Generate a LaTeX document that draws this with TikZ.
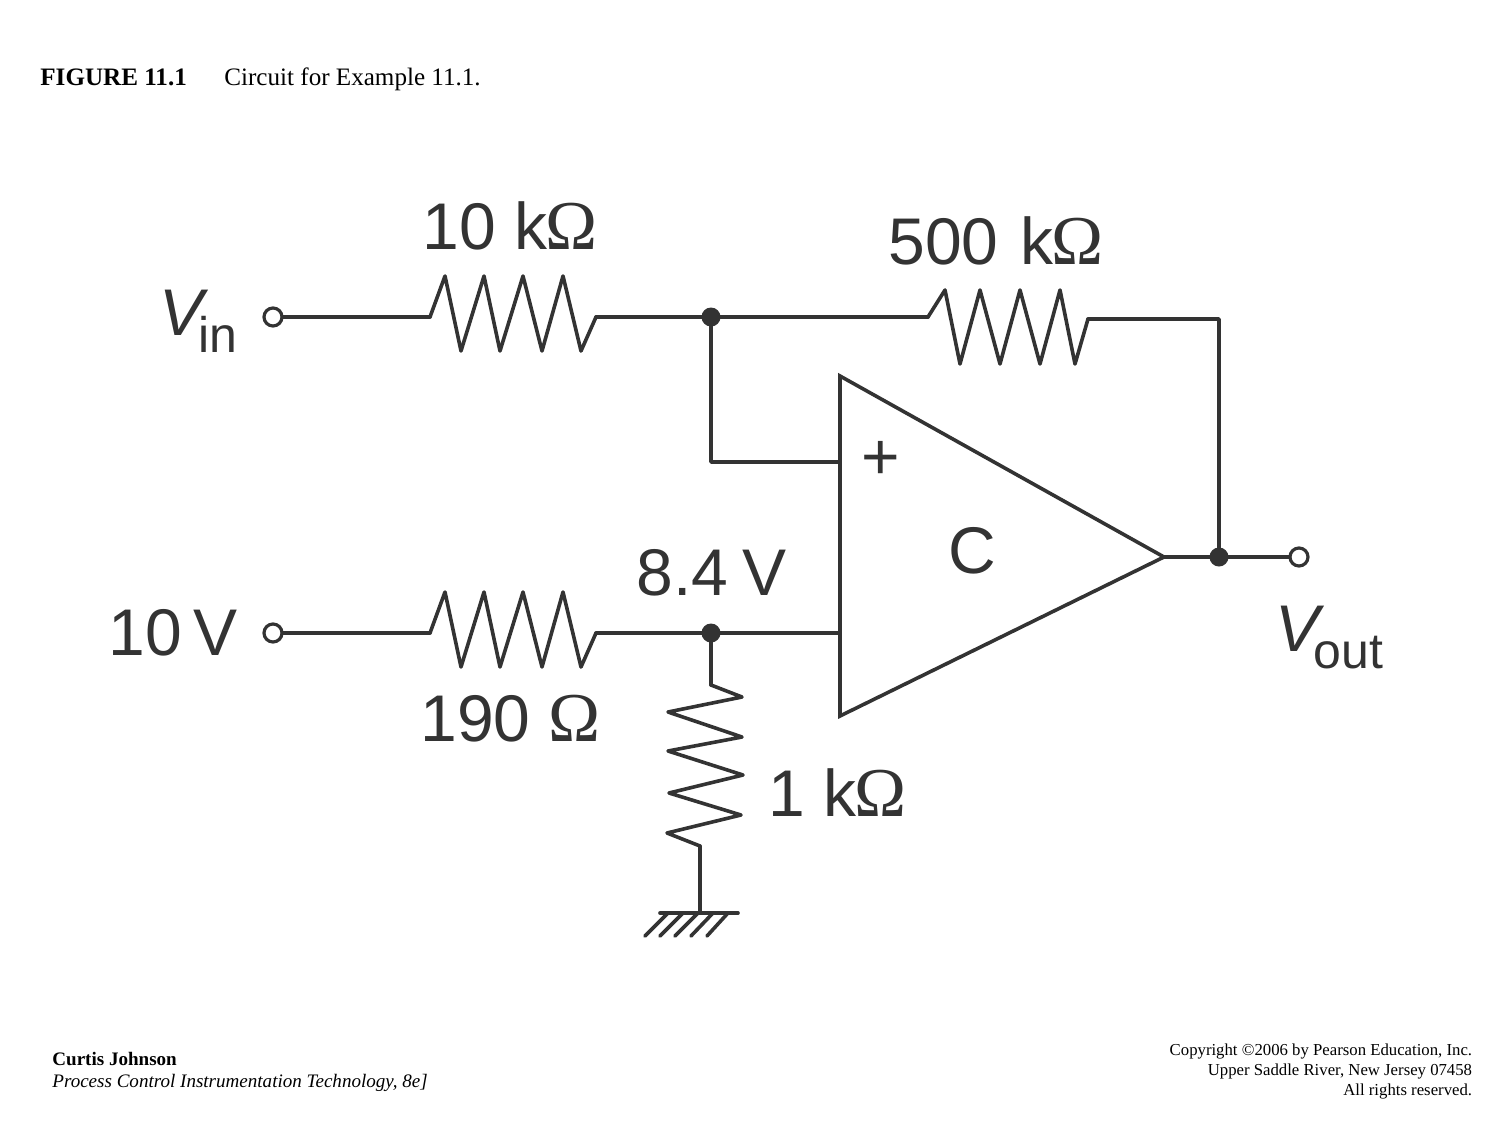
\documentclass[tikz,border=0pt]{standalone}
\usepackage{fontspec}
\setmainfont{Liberation Serif}
\setsansfont{Liberation Sans}
\definecolor{ink}{HTML}{333333}
\tikzset{
  wire/.style={draw=ink,line width=1.8pt,line join=round,line cap=round},
  dot/.style={circle,fill=ink,draw=none,minimum size=9.5pt,inner sep=0pt},
  term/.style={circle,draw=ink,fill=white,line width=1.6pt,minimum size=9pt,inner sep=0pt},
  lab/.style={anchor=base west,inner sep=0pt,text=ink,font=\sffamily\fontsize{33}{33}\selectfont},
  sublab/.style={lab,font=\sffamily\fontsize{25}{25}\selectfont},
  captext/.style={anchor=base west,inner sep=0pt,text=black,font=\fontsize{12.55}{14}\selectfont},
  foot/.style={anchor=base west,inner sep=0pt,text=black,font=\fontsize{9.53}{11}\selectfont},
  copyr/.style={anchor=base east,inner sep=0pt,text=black,font=\fontsize{8.37}{10}\selectfont},
}
\newcommand{\Om}{{\rmfamily\fontsize{35}{35}\selectfont Ω}}
\begin{document}
\begin{tikzpicture}[x=0.5pt,y=-0.5pt]
\useasboundingbox (0,0) rectangle (1500,1125);
% captions
\node[captext] (figno) at (40,85) {\textbf{FIGURE 11.1}};
\node[captext] (figcap) at (224,85) {Circuit for Example 11.1.};
\node[foot] (author) at (52,1065) {\textbf{Curtis Johnson}};
\node[foot] (book) at (52,1087) {\textit{Process Control Instrumentation Technology, 8e]}};
\node[copyr] (c1) at (1472.5,1055) {Copyright ©2006 by Pearson Education, Inc.};
\node[copyr] (c2) at (1472.5,1075) {Upper Saddle River, New Jersey 07458};
\node[copyr] (c3) at (1472.5,1095) {All rights reserved.};
% junctions and terminals
\coordinate (j1) at (711,317);
\coordinate (j2) at (711,633);
\coordinate (j3) at (1219,557);
\coordinate (r1a) at (430,317);
\coordinate (r1b) at (596,317);
\coordinate (r2a) at (928,317);
\coordinate (r2b) at (1088,319);
\coordinate (r3a) at (430,633);
\coordinate (r3b) at (596,633);
\coordinate (r4a) at (711,685);
\coordinate (r4b) at (700,846);
\coordinate (gnd) at (700,913);
\coordinate (fbc) at (1219,319);
\coordinate (plusc) at (711,462);
\coordinate (plusin) at (840,462);
\coordinate (minusin) at (840,633);
\coordinate (ampT) at (840,376);
\coordinate (ampB) at (840,716);
\coordinate (out) at (1164,557);
\node[term] (vin) at (273,317) {};
\node[term] (vten) at (273,633) {};
\node[term] (vout) at (1299,557) {};
% wires
\draw[wire] (vin) -- (r1a);
\draw[wire] (r1b) -- (j1) -- (r2a);
\draw[wire] (r2b) -- (fbc) -- (j3);
\draw[wire] (j1) -- (plusc) -- (plusin);
\draw[wire] (vten) -- (r3a);
\draw[wire] (r3b) -- (j2) -- (minusin);
\draw[wire] (j2) -- (r4a);
\draw[wire] (out) -- (j3) -- (vout);
\draw[wire] (r4b) -- (gnd);
% resistors
\draw[wire] (r1a) -- (445,276) -- (461,351) -- (484,276) -- (500,351) -- (523,276) -- (542,351) -- (563,276) -- (581,351) -- (r1b);
\draw[wire] (r2a) -- (945,290) -- (960,364) -- (980,290) -- (1000,364) -- (1020,290) -- (1040,364) -- (1060,290) -- (1075,364) -- (r2b);
\draw[wire] (r3a) -- (445,592) -- (461,667) -- (484,592) -- (500,667) -- (523,592) -- (542,667) -- (563,592) -- (581,667) -- (r3b);
\draw[wire] (r4a) -- (742,697) -- (668,712) -- (742,737) -- (668,751) -- (743,775) -- (669,793) -- (741,815) -- (667,833) -- (r4b);
% ground
\draw[wire] (660,913) -- (738,913);
\foreach \t/\b in {668/645,683/660,698/675,713/691,728/707}
  \draw[wire] (\t,913) -- (\b,936);
% op-amp
\draw[wire,line join=miter] (ampT) -- (out) -- (ampB) -- cycle;
% dots
\node[dot] (d1) at (j1) {};
\node[dot] (d2) at (j2) {};
\node[dot] (d3) at (j3) {};
% labels
\node[lab] (l10k) at (422,249) {10 k\kern-1pt\Om};
\node[lab] (l500k) at (888,264) {500\kern11pt k\kern-1pt\Om};
\node[lab] (l190) at (420,741) {190 \Om};
\node[lab] (l1k) at (768,816) {1 k\kern-1pt\Om};
\node[lab] (l84) at (636,595) {8.4\kern7pt V};
\node[lab] (l10v) at (108,655) {10\kern5.7pt V};
\node[lab] (lc) at (948,573) {C};
\node[lab] (lplus) at (861,479) {+};
\node[lab] (lvin) at (159,335) {\textit{V}};
\node[sublab] (lvinsub) at (198,352) {in};
\node[lab] (lvout) at (1275,651) {\textit{V}};
\node[sublab] (lvoutsub) at (1313,668) {out};
\end{tikzpicture}
\end{document}
